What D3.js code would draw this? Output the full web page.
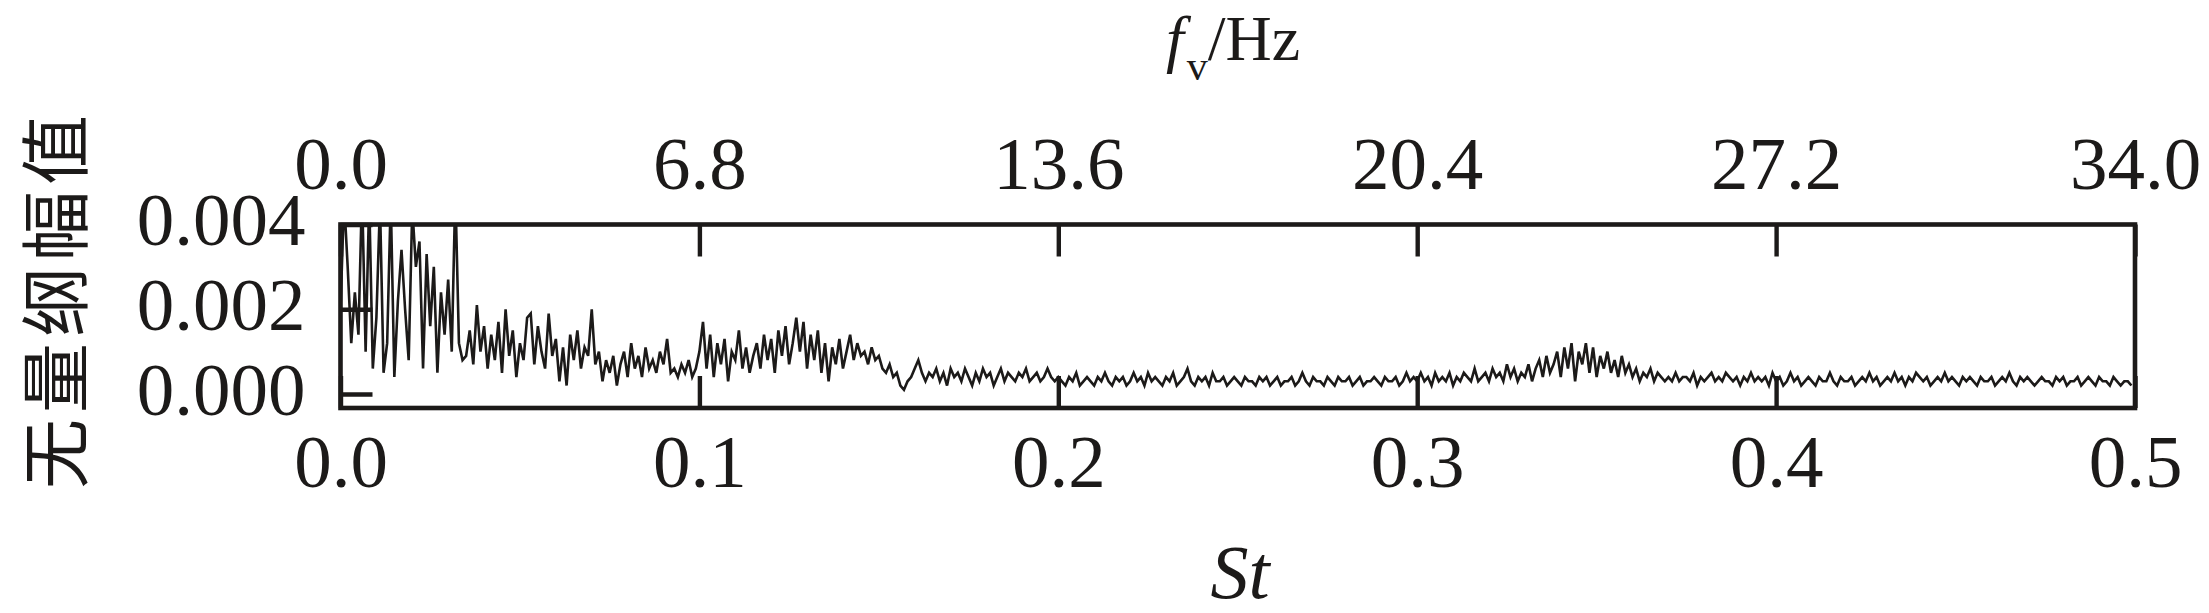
<!DOCTYPE html>
<html>
<head>
<meta charset="utf-8">
<script src="https://cdn.jsdelivr.net/npm/d3@7"></script>
<style>
  html, body { margin: 0; padding: 0; background: #fff; }
  svg { display: block; }
  .tick text { font-family: "Liberation Serif", "Times New Roman", serif; }
</style>
</head>
<body>
<svg id="chart" width="2209" height="613"></svg>
<script>
// ---------------- data ----------------
// Strouhal number sampling step of the spectrum (bins)
const stStep = 0.001;
// Dimensionless amplitude, in units of 1e-4, one per St bin 0.000 ... 0.499
const amplitudeE4 = [
  // 0.000 - 0.034
  20,46,30,12,24,14,48,10,46,6, 18,45,5,12,46,4,22,34,20,8, 44,30,36,6,33,16,30,5,24,14, 27,10,48,12,8,
  // 0.035 - 0.099
  9,15,7,21,10,16,6,14,8,17, 5,20,9,15,4,12,8,18,19,7, 16,10,6,19,9,13,3,11,2,14, 8,15,6,11,9,20,7,10,3,8,
  5,9,2,7,10,4,12,6,9,4, 11,6,8,5,10,7,13,5,6,4, 7,5,8,4,6,
  // 0.100 - 0.159
  10,17,6,14,4,12,7,13,3,10, 8,15,6,11,5,9,12,6,14,8, 13,5,15,9,16,7,12,18,10,17,
  6,14,8,15,5,12,3,11,7,13, 6,10,14,8,12,9,10,7,11,8, 9,6,5,7,4,5,2,1,3,4,
  // 0.160 - 0.199
  6,8,5,3,5,4,6,3,5,2, 6,4,5,3,6,4,2,5,3,6, 4,5,2,4,6,3,5,4,3,5, 4,6,3,4,5,3,4,6,4,3,
  // 0.200 - 0.329
  4,3,2,4,3,5,2,3,4,3, 2,4,3,5,3,2,4,3,4,2, 3,5,3,4,2,5,3,4,3,2,
  4,3,5,2,3,4,6,3,2,4, 3,4,2,5,3,3,4,2,3,4, 3,2,4,3,3,2,4,3,4,2,
  3,4,2,3,3,4,2,3,5,3, 2,4,3,3,2,4,3,2,4,3, 3,4,2,3,4,2,3,3,4,3,
  2,4,3,3,4,2,3,5,3,4, 3,5,3,4,2,5,3,4,3,5, 2,4,3,5,4,3,6,3,4,5, 3,6,4,5,3,7,4,6,3,5,
  // 0.330 - 0.369
  4,7,3,6,8,4,9,5,7,10, 4,11,6,12,3,10,7,12,5,11, 4,9,6,10,5,8,4,9,5,7, 4,6,3,5,4,6,3,5,4,3,
  // 0.370 - 0.499
  4,3,5,3,4,4,3,5,2,4, 3,4,5,3,4,3,5,4,3,4, 2,4,3,5,3,4,3,4,2,5,
  3,4,2,3,5,3,4,2,3,4, 3,2,4,3,3,5,3,2,4,3, 3,4,2,3,4,3,5,3,4,2,
  3,4,3,5,3,4,2,4,3,5, 4,3,4,2,3,4,3,5,3,4, 3,2,4,3,4,3,2,4,3,3,
  4,2,3,4,3,5,3,2,4,3, 4,3,2,3,4,3,3,2,4,3, 4,2,3,3,4,2,3,4,3,2, 4,3,3,2,4,3,2,3,3,2
];
const stTicks = [0, 0.1, 0.2, 0.3, 0.4, 0.5];
const fvTicks = [0, 6.8, 13.6, 20.4, 27.2, 34.0];
const ampTicks = [0, 0.002, 0.004];

// series as St / amplitude pairs
const series = amplitudeE4.map((a, i) => ({ st: i * stStep, amp: a * 1e-4 }));

// ---------------- layout ----------------
const svg = d3.select("#chart");
const L = 340.5, R = 2135, T = 224.5, B = 408;
const x = d3.scaleLinear().domain([0, 0.5]).range([L, R]);
const xTop = d3.scaleLinear().domain([0, 34]).range([L, R]);
const y = d3.scaleLinear().domain([0, 0.004]).range([394, T]);

const ink = "#1c1a19";
const tickLen = 32;
const numFont = 75;

svg.append("rect").attr("width", 2209).attr("height", 613).attr("fill", "#fff");

svg.append("clipPath").attr("id", "plotclip")
  .append("rect").attr("x", L).attr("y", T).attr("width", R - L).attr("height", B - T);

// data line
const line = d3.line().x(d => x(d.st)).y(d => y(d.amp));
svg.append("path")
  .datum(series)
  .attr("clip-path", "url(#plotclip)")
  .attr("fill", "none")
  .attr("stroke", ink)
  .attr("stroke-width", 2.6)
  .attr("stroke-linejoin", "miter")
  .attr("d", line);

function styleAxis(g) {
  g.select(".domain").remove();
  g.selectAll(".tick line").attr("stroke", ink).attr("stroke-width", 4.4);
  g.selectAll(".tick text").attr("fill", ink).attr("font-size", numFont);
}

// bottom axis (St)
svg.append("g").attr("transform", `translate(0,${B})`)
  .call(d3.axisBottom(x).tickValues(stTicks).tickFormat(d3.format(".1f"))
    .tickSizeInner(-tickLen).tickSizeOuter(0).tickPadding(79))
  .call(styleAxis)
  .selectAll(".tick text").attr("dy", "0");

// top axis (fv)
svg.append("g").attr("transform", `translate(0,${T})`)
  .call(d3.axisTop(xTop).tickValues(fvTicks).tickFormat(d3.format(".1f"))
    .tickSizeInner(-tickLen).tickSizeOuter(0).tickPadding(36))
  .call(styleAxis)
  .selectAll(".tick text").attr("dy", "0");

// left axis (amplitude)
svg.append("g").attr("transform", `translate(${L},0)`)
  .call(d3.axisLeft(y).tickValues(ampTicks).tickFormat(d3.format(".3f"))
    .tickSizeInner(-tickLen).tickSizeOuter(0).tickPadding(35))
  .call(styleAxis)
  .selectAll(".tick text").attr("dy", "20");

// frame
svg.append("rect")
  .attr("x", L).attr("y", T).attr("width", R - L).attr("height", B - T)
  .attr("fill", "none").attr("stroke", ink).attr("stroke-width", 4.6);

// top title f_v/Hz
const tt = svg.append("text")
  .attr("x", 1233).attr("y", 60)
  .attr("text-anchor", "middle")
  .attr("font-family", "Liberation Serif, serif")
  .attr("font-size", 64)
  .attr("fill", ink);
tt.append("tspan").attr("font-style", "italic").text("f");
tt.append("tspan").attr("font-size", 42).attr("dy", 20).attr("dx", 3).text("v");
tt.append("tspan").attr("dy", -20).text("/Hz");

// bottom title St
svg.append("text")
  .attr("x", 1240).attr("y", 598)
  .attr("text-anchor", "middle")
  .attr("font-family", "Liberation Serif, serif")
  .attr("font-style", "italic")
  .attr("font-size", 76)
  .attr("fill", ink)
  .text("St");

// y title
svg.append("text")
  .attr("transform", "translate(82,299) rotate(-90)")
  .attr("text-anchor", "middle")
  .attr("font-family", "Noto Sans CJK SC, sans-serif")
  .attr("font-size", 70)
  .attr("letter-spacing", 6)
  .attr("fill", ink)
  .text("无量纲幅值");
</script>
</body>
</html>
